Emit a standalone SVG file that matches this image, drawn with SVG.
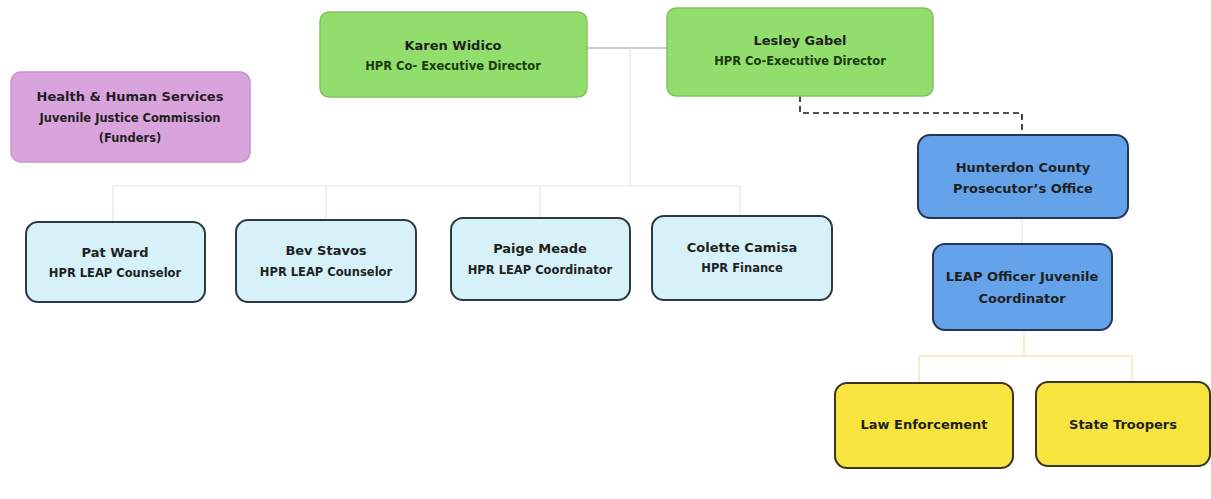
<svg xmlns="http://www.w3.org/2000/svg" width="1211" height="499" viewBox="0 0 1211 499">
<style>
text{font-family:"DejaVu Sans","Liberation Sans",sans-serif;font-weight:bold;text-anchor:middle;fill:#1f1f1f}
.n{font-size:13px}
.t{font-size:11.5px}
.tg{font-size:11.5px;fill:#1a3a10}
.green{fill:#92de6c;stroke:#86c060;stroke-width:1.5}
.pink{fill:#d9a3dc;stroke:#c993cc;stroke-width:1.5}
.lb{fill:#d7f1f8;stroke:#2b3a46;stroke-width:2}
.blue{fill:#64a3ea;stroke:#23365a;stroke-width:2}
.yel{fill:#f8e43e;stroke:#3d3322;stroke-width:2}
.c1{fill:none;stroke:#e2e6e6;stroke-width:1.2}
.c0{fill:none;stroke:#a9c1c6;stroke-width:1.5}
.cy{fill:none;stroke:#efe8b8;stroke-width:1.5}
.cd{fill:none;stroke:#1a1a1a;stroke-width:1.6;stroke-dasharray:6 4}
</style>
<rect width="1211" height="499" fill="#ffffff"/>
<g id="connectors">
<path class="c0" d="M587 48H667"/>
<path class="c1" d="M630 48V186M113 186H740M113 186V222M326 186V220M540 186V218M740 186V216"/>
<path class="cd" d="M800 96V113H1022V135"/>
<path class="c1" d="M1022 218V244"/>
<path class="cy" d="M1024 330V356M919 356H1132M919 356V383M1132 356V382"/>
</g>
<g id="karen">
<rect class="green" x="320" y="12" width="267" height="85" rx="9"/>
<text class="n" x="453" y="50">Karen Widico</text>
<text class="tg" x="453" y="70">HPR Co- Executive Director</text>
</g>
<g id="lesley">
<rect class="green" x="667" y="8" width="266" height="88" rx="9"/>
<text class="n" x="800" y="45">Lesley Gabel</text>
<text class="tg" x="800" y="65">HPR Co-Executive Director</text>
</g>
<g id="hhs">
<rect class="pink" x="11" y="72" width="239" height="90" rx="10"/>
<text class="n" x="130" y="101">Health &amp; Human Services</text>
<text class="t" x="130" y="122">Juvenile Justice Commission</text>
<text class="t" x="130" y="142">(Funders)</text>
</g>
<g id="patward">
<rect class="lb" x="26" y="222" width="179" height="80" rx="12"/>
<text class="n" x="115" y="257">Pat Ward</text>
<text class="t" x="115" y="277">HPR LEAP Counselor</text>
</g>
<g id="bevstavos">
<rect class="lb" x="236" y="220" width="180" height="82" rx="12"/>
<text class="n" x="326" y="255">Bev Stavos</text>
<text class="t" x="326" y="276">HPR LEAP Counselor</text>
</g>
<g id="paigemeade">
<rect class="lb" x="451" y="218" width="179" height="82" rx="12"/>
<text class="n" x="540" y="253">Paige Meade</text>
<text class="t" x="540" y="274">HPR LEAP Coordinator</text>
</g>
<g id="colette">
<rect class="lb" x="652" y="216" width="180" height="84" rx="12"/>
<text class="n" x="742" y="252">Colette Camisa</text>
<text class="t" x="742" y="272">HPR Finance</text>
</g>
<g id="hunterdon">
<rect class="blue" x="918" y="135" width="210" height="83" rx="12"/>
<text class="n" x="1023" y="172">Hunterdon County</text>
<text class="n" x="1023" y="193">Prosecutor’s Office</text>
</g>
<g id="leap">
<rect class="blue" x="933" y="244" width="179" height="86" rx="12"/>
<text class="n" x="1022" y="281">LEAP Officer Juvenile</text>
<text class="n" x="1022" y="303">Coordinator</text>
</g>
<g id="law">
<rect class="yel" x="835" y="383" width="178" height="85" rx="12"/>
<text class="n" x="924" y="429">Law Enforcement</text>
</g>
<g id="troopers">
<rect class="yel" x="1036" y="382" width="174" height="84" rx="12"/>
<text class="n" x="1123" y="429">State Troopers</text>
</g>
</svg>
